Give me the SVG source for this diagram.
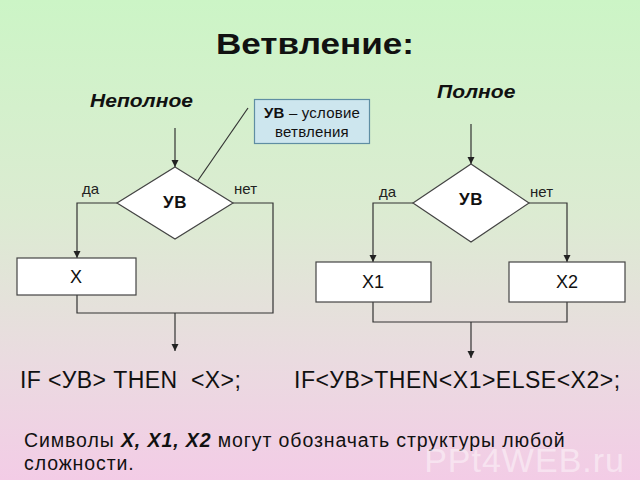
<svg xmlns="http://www.w3.org/2000/svg" width="640" height="480" viewBox="0 0 640 480">
<defs>
<linearGradient id="bg" x1="0" y1="0" x2="0" y2="1">
<stop offset="0" stop-color="#ccf5c6"/>
<stop offset="0.45" stop-color="#dcebd2"/>
<stop offset="0.75" stop-color="#eadbe0"/>
<stop offset="1" stop-color="#f3cce6"/>
</linearGradient>
<marker id="ah" markerWidth="8" markerHeight="8" refX="7" refY="4" orient="auto" markerUnits="userSpaceOnUse">
<path d="M0,0.5 L7,4 L0,7.5 Z" fill="#222"/>
</marker>
<style>
.ln{fill:none;stroke:#333;stroke-width:1.2}
.ar{fill:none;stroke:#333;stroke-width:1.2;marker-end:url(#ah)}
.box{fill:#fff;stroke:#444;stroke-width:1.2}
.t{font-family:"Liberation Sans",Arial,sans-serif;fill:#111}
.lbl{font-family:"Liberation Sans",Arial,sans-serif;font-size:15px;fill:#222}
.cond{font-family:"Liberation Sans",Arial,sans-serif;font-size:17px;font-weight:bold;fill:#111;text-anchor:middle;letter-spacing:0.5px}
.bx{font-family:"Liberation Sans",Arial,sans-serif;font-size:18px;fill:#111;text-anchor:middle}
</style>
</defs>
<rect width="640" height="480" fill="url(#bg)"/>
<text transform="translate(216,54) scale(1.17,1)" class="t" font-size="30" font-weight="bold">Ветвление:</text>
<text transform="translate(90,107) scale(1.17,1)" class="t" font-size="18" font-weight="bold" font-style="italic">Неполное</text>
<text transform="translate(437,98) scale(1.17,1)" class="t" font-size="18" font-weight="bold" font-style="italic">Полное</text>
<g id="note">
<rect x="254.5" y="99.5" width="115" height="44" fill="#cde6ee" stroke="#5f8ea3" stroke-width="1.2"/>
<text x="312" y="118" class="t" font-size="15" text-anchor="middle" letter-spacing="0.2"><tspan font-weight="bold">УВ</tspan> – условие</text>
<text x="312" y="137" class="t" font-size="15" text-anchor="middle" letter-spacing="0.2">ветвления</text>
</g>
<g id="connectors">
<line x1="248" y1="108" x2="190" y2="192" class="ln" stroke-width="1"/>
<line x1="175" y1="128" x2="175" y2="167" class="ar"/>
<polyline points="117,203 77,203 77,258" class="ar"/>
<polyline points="233,203 273,203 273,313 77,313 77,295" class="ln"/>
<line x1="175" y1="313" x2="175" y2="351" class="ar"/>
<line x1="471" y1="124" x2="471" y2="164" class="ar"/>
<polyline points="413,203 373,203 373,262" class="ar"/>
<polyline points="529,203 567,203 567,262" class="ar"/>
<polyline points="373,302 373,322 567,322 567,302" class="ln"/>
<line x1="471" y1="322" x2="471" y2="358" class="ar"/>
</g>
<g id="cond1">
<polygon points="175,167 233,203 175,239 117,203" class="box"/>
<text x="175" y="208" class="cond">УВ</text>
</g>
<text x="82" y="194" class="lbl">да</text>
<text x="234" y="194" class="lbl">нет</text>
<g id="boxX">
<rect x="17" y="258" width="119" height="37" class="box"/>
<text x="76" y="283" class="bx">X</text>
</g>
<g id="cond2">
<polygon points="471,164 529,203 471,242 413,203" class="box"/>
<text x="471" y="205" class="cond">УВ</text>
</g>
<text x="379" y="197" class="lbl">да</text>
<text x="530" y="197" class="lbl">нет</text>
<g id="boxX1">
<rect x="316" y="262" width="115" height="40" class="box"/>
<text x="373" y="288" class="bx">X1</text>
</g>
<g id="boxX2">
<rect x="509" y="262" width="116" height="40" class="box"/>
<text x="567" y="288" class="bx">X2</text>
</g>
<text x="20" y="388" class="t" font-size="23" letter-spacing="0.4" xml:space="preserve">IF &lt;УВ&gt; THEN  &lt;X&gt;;</text>
<text x="294" y="388" class="t" font-size="23" letter-spacing="0.5">IF&lt;УВ&gt;THEN&lt;X1&gt;ELSE&lt;X2&gt;;</text>
<text x="24" y="447" class="t" font-size="19.5" letter-spacing="0.9" fill="#1a1a1a">Символы <tspan font-weight="bold" font-style="italic">X, X1, X2</tspan> могут обозначать структуры любой</text>
<text x="24" y="470" class="t" font-size="19.5" letter-spacing="0.9">сложности.</text>
<text x="625" y="472" font-family="'Liberation Sans',Arial,sans-serif" font-size="34" letter-spacing="1" fill="#ffffff" fill-opacity="0.45" text-anchor="end">PPt4WEB.ru</text>
</svg>
